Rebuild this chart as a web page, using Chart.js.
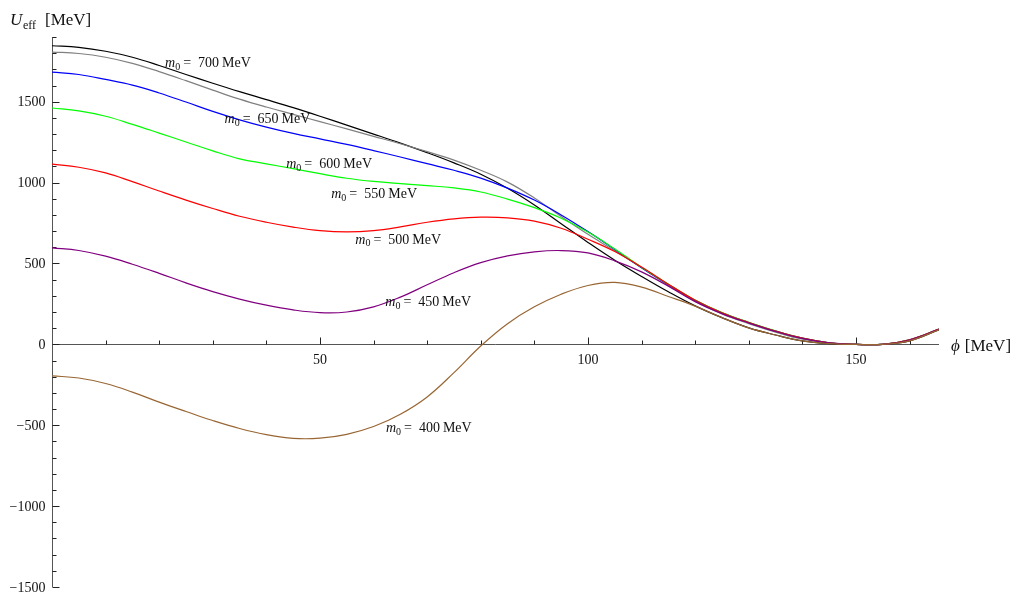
<!DOCTYPE html>
<html>
<head>
<meta charset="utf-8">
<title>U_eff vs phi</title>
<script src="https://cdn.jsdelivr.net/npm/chart.js@4.4.1/dist/chart.umd.min.js"></script>
<style>
  html, body { margin: 0; padding: 0; background: #fff; }
  canvas { display: block; }
</style>
</head>
<body>
<canvas id="c" width="1019" height="601"></canvas>
<script>
// phi [MeV] sample points
const phi = [0,5,10,15,20,25,30,35,40,45,50,55,60,65,70,75,80,85,90,95,100,105,110,115,120,125,130,135,140,145,150,155,160,165.5];

// U_eff [MeV] for each bare mass m0
const u700 = [1846,1836,1812,1775,1724,1668,1614,1562,1513,1463,1410,1355,1300,1244,1185,1122,1052,965,862,746,630,520,420,325,238,165,102,58,22,5,0,0,22,90];
const u650 = [1807,1798,1775,1737,1686,1630,1572,1516,1467,1422,1377,1332,1286,1240,1191,1139,1076,1003,905,790,680,578,474,366,266,188,128,76,32,9,0,0,25,92];
const u600 = [1683,1668,1638,1603,1554,1498,1440,1388,1343,1304,1270,1236,1198,1158,1117,1076,1028,966,892,800,697,586,474,370,272,195,135,82,38,10,0,0,28,94];
const u550 = [1461,1443,1410,1360,1306,1251,1196,1147,1116,1086,1055,1027,1007,993,981,967,942,898,845,780,694,590,477,372,274,196,136,83,39,10,0,0,28,94];
const u500 = [1114,1095,1060,1006,948,892,840,792,755,725,703,695,703,726,755,776,786,782,762,718,650,574,478,372,273,195,135,82,38,10,0,0,28,94];
const u450 = [597,580,545,495,439,380,326,280,242,213,196,200,232,292,368,443,505,547,572,580,565,516,448,360,264,190,132,80,37,9,0,0,27,93];
const u400 = [-195,-208,-242,-295,-357,-415,-471,-520,-558,-581,-580,-556,-508,-432,-325,-175,-10,128,232,310,364,383,354,296,236,165,102,58,22,5,0,0,22,90];

// axis tick values
const xTicksMajor = [50, 100, 150];
const yTicksMajor = [-1500, -1000, -500, 0, 500, 1000, 1500];
const xMinorStep = 10;
const yMinorStep = 100;

// curve labels: mass value and anchor (left edge, vertical middle) in data units
const labelMass = [700, 650, 600, 550, 500, 450, 400];
const labelPhi  = [21.1, 32.2, 43.7, 52.1, 56.6, 62.2, 62.3];
const labelU    = [1740, 1389, 1111, 925, 646, 257, -517];

const series = [
  { data: u400, color: '#996633' },
  { data: u450, color: '#800080' },
  { data: u500, color: '#ff0000' },
  { data: u550, color: '#00ff00' },
  { data: u600, color: '#0000ff' },
  { data: u650, color: '#808080' },
  { data: u700, color: '#000000' }
];

const SERIF = '"Liberation Serif", "DejaVu Serif", serif';
const MINUS = '\u2212';

function fmt(v) { return v < 0 ? MINUS + Math.abs(v) : String(v); }

const axesPlugin = {
  id: 'crossAxes',
  beforeDatasetsDraw(chart) {
    const { ctx, scales: { x, y } } = chart;
    const x0 = Math.round(x.getPixelForValue(0)) + 0.5;
    const y0 = Math.round(y.getPixelForValue(0)) + 0.5;
    ctx.save();
    ctx.strokeStyle = '#555';
    ctx.lineWidth = 1;
    // axis lines
    ctx.beginPath();
    ctx.moveTo(x0, y.getPixelForValue(y.min));
    ctx.lineTo(x0, y.getPixelForValue(y.max));
    ctx.moveTo(x0, y0);
    ctx.lineTo(x.getPixelForValue(x.max), y0);
    ctx.stroke();

    // y ticks
    ctx.strokeStyle = '#222';
    ctx.beginPath();
    for (let v = y.min; v <= y.max + 1e-6; v += yMinorStep) {
      const py = Math.round(y.getPixelForValue(v)) + 0.5;
      const len = yTicksMajor.includes(v) ? 7 : 4;
      ctx.moveTo(x0, py);
      ctx.lineTo(x0 + len, py);
    }
    // x ticks
    for (let v = xMinorStep; v <= x.max; v += xMinorStep) {
      const px = Math.round(x.getPixelForValue(v)) + 0.5;
      const len = xTicksMajor.includes(v) ? 7 : 4;
      ctx.moveTo(px, y0);
      ctx.lineTo(px, y0 - len);
    }
    ctx.stroke();

    // tick labels
    ctx.fillStyle = '#111';
    ctx.font = '14px ' + SERIF;
    ctx.textAlign = 'right';
    ctx.textBaseline = 'middle';
    yTicksMajor.forEach(v => {
      ctx.fillText(fmt(v), x0 - 7, y.getPixelForValue(v) + 1);
    });
    ctx.textAlign = 'center';
    xTicksMajor.forEach(v => {
      ctx.fillText(String(v), x.getPixelForValue(v), y0 + 16);
    });

    // axis titles
    ctx.textAlign = 'left';
    ctx.textBaseline = 'alphabetic';
    ctx.font = 'italic 17px ' + SERIF;
    ctx.fillText('U', 10, 25);
    ctx.font = '12px ' + SERIF;
    ctx.fillText('eff', 23, 29);
    ctx.font = '17px ' + SERIF;
    ctx.fillText('[MeV]', 45, 25);

    const xEnd = x.getPixelForValue(x.max);
    ctx.font = 'italic 17px ' + SERIF;
    ctx.fillText('\u03D5', xEnd + 12, y0 + 6);
    const wPhi = ctx.measureText('\u03D5').width;
    ctx.font = '17px ' + SERIF;
    ctx.fillText('[MeV]', xEnd + 12 + wPhi + 5, y0 + 6);
    ctx.restore();
  },
  afterDatasetsDraw(chart) {
    const { ctx, scales: { x, y } } = chart;
    ctx.save();
    ctx.fillStyle = '#111';
    ctx.textBaseline = 'middle';
    ctx.textAlign = 'left';
    labelMass.forEach((m, i) => {
      let px = x.getPixelForValue(labelPhi[i]);
      const py = y.getPixelForValue(labelU[i]);
      ctx.font = 'italic 14px ' + SERIF;
      ctx.fillText('m', px, py);
      px += ctx.measureText('m').width;
      ctx.font = '10px ' + SERIF;
      ctx.fillText('0', px, py + 4);
      px += ctx.measureText('0').width + 3;
      ctx.font = '14px ' + SERIF;
      ctx.fillText('=', px, py);
      px += ctx.measureText('=').width + 7;
      ctx.fillText(String(m), px, py);
      px += ctx.measureText(String(m)).width + 3;
      ctx.fillText('MeV', px, py);
    });
    ctx.restore();
  }
};

new Chart(document.getElementById('c'), {
  type: 'line',
  data: {
    datasets: series.map(s => ({
      data: phi.map((p, i) => ({ x: p, y: s.data[i] })),
      borderColor: s.color,
      borderWidth: 1.2,
      pointRadius: 0,
      fill: false,
      tension: 0.4
    }))
  },
  options: {
    responsive: false,
    animation: false,
    devicePixelRatio: 1,
    layout: { padding: { left: 52, right: 80, top: 37, bottom: 14 } },
    plugins: { legend: { display: false }, tooltip: { enabled: false } },
    scales: {
      x: { type: 'linear', min: 0, max: 165.5, display: false },
      y: { type: 'linear', min: -1500, max: 1900, display: false }
    }
  },
  plugins: [axesPlugin]
});
</script>
</body>
</html>
